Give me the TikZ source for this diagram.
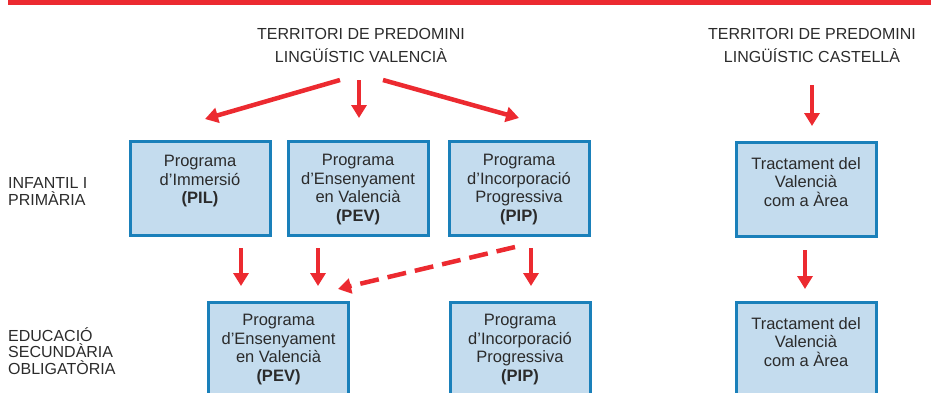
\documentclass[tikz,border=0pt]{standalone}
\usepackage{fontspec}
\setmainfont{Liberation Sans}
\usetikzlibrary{arrows.meta}
\definecolor{barred}{HTML}{EC2A30}
\definecolor{boxfill}{HTML}{C4DCEE}
\definecolor{boxline}{HTML}{1A80BA}
\definecolor{txt}{HTML}{2B2B2B}
\tikzset{
  progbox/.style={draw=boxline, line width=3pt, fill=boxfill, minimum width=140pt, minimum height=94pt, inner sep=0pt},
  btext/.style={anchor=north, align=center, text=txt, font=\fontsize{16.5}{18.7}\selectfont, inner sep=0pt},
  head/.style={align=center, text=txt, font=\fontsize{16}{23}\selectfont, inner sep=0pt},
  side/.style={anchor=north west, align=left, text=txt, font=\fontsize{16}{16.8}\selectfont, inner sep=0pt},
  redarrow/.style={draw=barred, line width=4.5pt, -{Triangle[length=13pt,width=15pt]}},
  dasharrow/.style={redarrow, dash pattern=on 19pt off 9pt},
}
\begin{document}
\begin{tikzpicture}[x=1pt,y=-1pt]
\useasboundingbox (0,0) rectangle (941,392);
\begin{scope}
\clip (0,0) rectangle (941,392);
\fill[barred] (8,0) rectangle (931,4.5);

% headings
\node[head] (hv) at (361,45) {TERRITORI DE PREDOMINI\\LINGÜÍSTIC VALENCIÀ};
\node[head] (hc) at (812,45) {TERRITORI DE PREDOMINI\\LINGÜÍSTIC CASTELLÀ};

% side labels
\node[side] (l1) at (8,177.5) {INFANTIL I\\PRIMÀRIA};
\node[side] (l2) at (8,327) {EDUCACIÓ\\SECUNDÀRIA\\OBLIGATÒRIA};

% row 1 boxes
\node[progbox] (pil) at (200,188.5) {};
\node[progbox] (pev1) at (358,188.5) {};
\node[progbox] (pip1) at (519,188.5) {};
\node[progbox] (tva1) at (806,189) {};
\node[btext] at (200,155) {Programa\\d’Immersió\\\textbf{(PIL)}};
\node[btext] at (358,154) {Programa\\d’Ensenyament\\en Valencià\\\textbf{(PEV)}};
\node[btext] at (519,154) {Programa\\d’Incorporació\\Progressiva\\\textbf{(PIP)}};
\node[btext] at (806,157) {Tractament del\\Valencià\\com a Àrea};

% row 2 boxes
\node[progbox, minimum height=110pt] (pev2) at (278.5,357) {};
\node[progbox, minimum height=110pt] (pip2) at (520,357) {};
\node[progbox, minimum height=110pt] (tva2) at (806,357) {};
\node[btext] at (278.5,314) {Programa\\d’Ensenyament\\en Valencià\\\textbf{(PEV)}};
\node[btext] at (520,314) {Programa\\d’Incorporació\\Progressiva\\\textbf{(PIP)}};
\node[btext] at (806,317) {Tractament del\\Valencià\\com a Àrea};

% arrow coordinates
\coordinate (a1s) at (340,80);  \coordinate (a1e) at (205,119);
\coordinate (a2s) at (359,80);  \coordinate (a2e) at (359,118);
\coordinate (a3s) at (383,80);  \coordinate (a3e) at (519,118);
\coordinate (a4s) at (812,85);  \coordinate (a4e) at (812,126);
\coordinate (b1s) at (241,248); \coordinate (b1e) at (241,286);
\coordinate (b2s) at (318,248); \coordinate (b2e) at (318,286);
\coordinate (b3s) at (531,248); \coordinate (b3e) at (531,286);
\coordinate (b4s) at (515,247); \coordinate (b4e) at (338,289);
\coordinate (b5s) at (805,250); \coordinate (b5e) at (805,289);

\draw[redarrow] (a1s) -- (a1e);
\draw[redarrow] (a2s) -- (a2e);
\draw[redarrow] (a3s) -- (a3e);
\draw[redarrow] (a4s) -- (a4e);
\draw[redarrow] (b1s) -- (b1e);
\draw[redarrow] (b2s) -- (b2e);
\draw[redarrow] (b3s) -- (b3e);
\draw[dasharrow] (b4s) -- (b4e);
\draw[redarrow] (b5s) -- (b5e);
\end{scope}
\end{tikzpicture}
\end{document}
